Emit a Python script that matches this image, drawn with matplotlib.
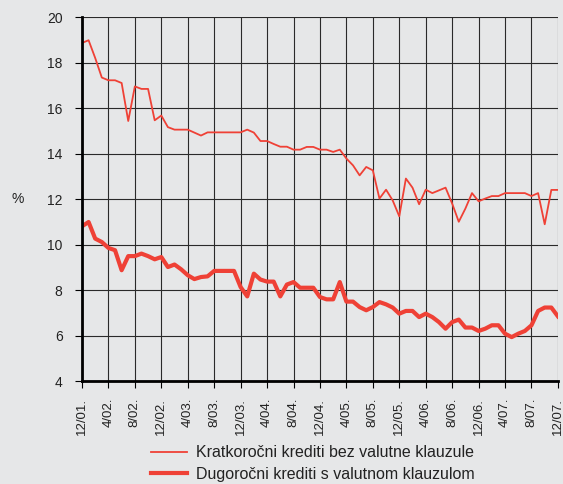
import numpy as np
import matplotlib.pyplot as plt

plt.rcParams['font.family'] = ['Liberation Sans', 'DejaVu Sans']

# monthly data 12/2001 - 12/2007
months = np.arange(73)
tick_labels = ["12/01.", "4/02.", "8/02.", "12/02.", "4/03.", "8/03.", "12/03.",
               "4/04.", "8/04.", "12/04.", "4/05.", "8/05.", "12/05.", "4/06.",
               "8/06.", "12/06.", "4/07.", "8/07.", "12/07."]

short_term = [18.86, 18.98, 18.2, 17.34, 17.22, 17.22, 17.1, 15.43, 16.95, 16.84,
              16.84, 15.46, 15.67, 15.16, 15.05, 15.05, 15.05, 14.92, 14.79, 14.93,
              14.93, 14.93, 14.93, 14.93, 14.93, 15.05, 14.92, 14.55, 14.55, 14.42,
              14.3, 14.3, 14.17, 14.17, 14.29, 14.29, 14.17, 14.17, 14.07, 14.17,
              13.78, 13.48, 13.04, 13.41, 13.26, 12.02, 12.41, 11.94, 11.24, 12.9,
              12.5, 11.77, 12.41, 12.26, 12.38, 12.5, 11.8, 11.0, 11.58, 12.26,
              11.9, 12.02, 12.13, 12.13, 12.26, 12.26, 12.26, 12.26, 12.13, 12.26,
              10.89, 12.4, 12.4]

long_term = [10.8, 10.99, 10.26, 10.11, 9.85, 9.75, 8.87, 9.49, 9.49, 9.6,
             9.49, 9.35, 9.45, 9.01, 9.12, 8.91, 8.65, 8.48, 8.57, 8.6,
             8.84, 8.84, 8.84, 8.84, 8.13, 7.72, 8.72, 8.46, 8.37, 8.37,
             7.72, 8.24, 8.35, 8.1, 8.1, 8.1, 7.69, 7.59, 7.59, 8.35,
             7.49, 7.49, 7.25, 7.11, 7.25, 7.47, 7.37, 7.23, 6.96, 7.08,
             7.08, 6.81, 6.96, 6.81, 6.59, 6.3, 6.59, 6.7, 6.35, 6.35,
             6.2, 6.3, 6.45, 6.45, 6.08, 5.93, 6.08, 6.2, 6.45, 7.08,
             7.23, 7.23, 6.84]

bg = "#e6e7e8"
red = "#ef4136"

fig = plt.figure(figsize=(5.63, 4.84), dpi=100, facecolor=bg)
ax = fig.add_axes([0.1456, 0.2128, 0.8454, 0.752])
ax.set_facecolor(bg)

l1, = ax.plot(months, short_term, color=red, lw=1.3, label="Kratkoročni krediti bez valutne klauzule")
l2, = ax.plot(months, long_term, color=red, lw=3.0, label="Dugoročni krediti s valutnom klauzulom")

ax.set_xlim(0, 72)
ax.set_ylim(4, 20)
ax.set_yticks(np.arange(4, 21, 2))
ax.set_xticks(months[::4])
ax.set_xticklabels(tick_labels, rotation=90, fontsize=9.5, color="#222222")
ax.tick_params(axis="y", labelsize=10, labelcolor="#222222", length=5, width=0.8, pad=9)
ax.tick_params(axis="x", length=5, width=0.8, pad=7)

ax.grid(True, color="#2a2a2a", lw=0.8)
ax.set_axisbelow(True)
for s in ["top", "right"]:
    ax.spines[s].set_visible(False)
ax.spines["left"].set_linewidth(2)
ax.spines["bottom"].set_linewidth(2)

fig.text(0.032, 0.588, "%", fontsize=10, color="#222222", ha="center", va="center")

fig.legend(handles=[l1, l2], loc="upper left", bbox_to_anchor=(0.268, 0.08),
           frameon=False, fontsize=11.5, handlelength=2.25, handletextpad=0.6,
           labelspacing=0.4, borderpad=0, borderaxespad=0, labelcolor="#222222")

fig.savefig("out.png", dpi=100, facecolor=bg)
